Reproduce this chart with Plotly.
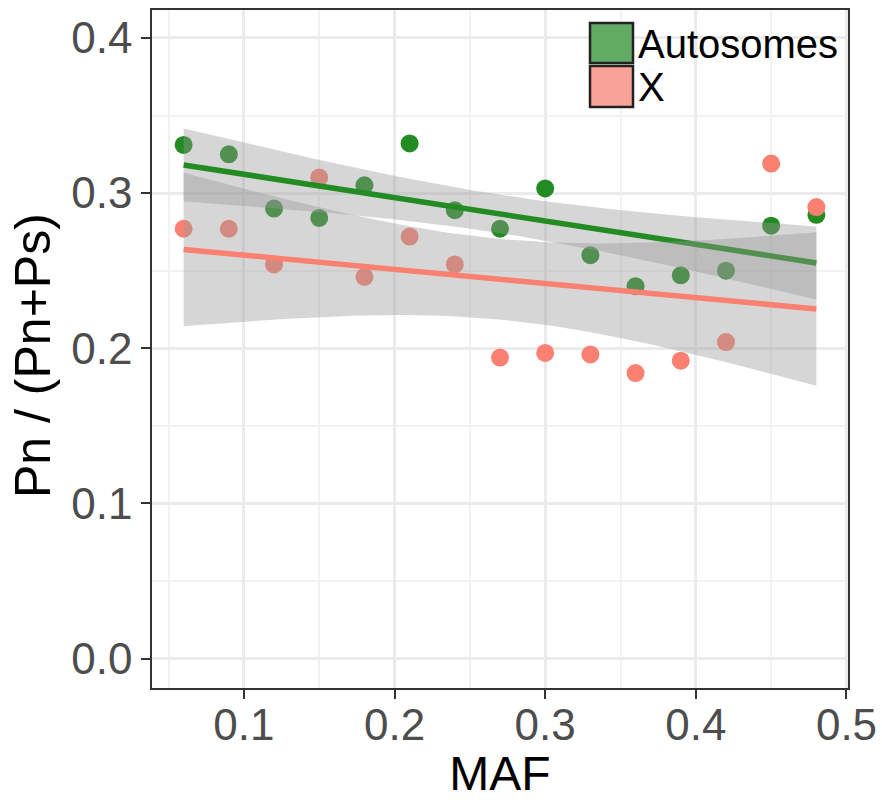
import numpy as np
import plotly.graph_objects as go

# ---- data ----
maf = [0.06, 0.09, 0.12, 0.15, 0.18, 0.21, 0.24, 0.27, 0.30, 0.33, 0.36, 0.39, 0.42, 0.45, 0.48]
autosomes = [0.331, 0.325, 0.290, 0.284, 0.305, 0.332, 0.289, 0.277, 0.303, 0.260, 0.240, 0.247, 0.250, 0.279, 0.286]
x_chrom = [0.277, 0.277, 0.254, 0.310, 0.246, 0.272, 0.254, 0.194, 0.197, 0.196, 0.184, 0.192, 0.204, 0.319, 0.291]
series_names = ["Autosomes", "X"]
x_ticks = [0.1, 0.2, 0.3, 0.4, 0.5]
y_ticks = [0.0, 0.1, 0.2, 0.3, 0.4]

GREEN = "#228B22"
SALMON = "#FA8072"
FONT = "Liberation Sans, Arial, Helvetica, sans-serif"
T975_DF13 = 2.160  # Student t quantile for 95% CI, n-2 = 13


def lm_fit(x, y, n_grid=80):
    x = np.asarray(x, float)
    y = np.asarray(y, float)
    n = len(x)
    b1, b0 = np.polyfit(x, y, 1)
    resid = y - (b0 + b1 * x)
    s = np.sqrt(np.sum(resid ** 2) / (n - 2))
    xbar = x.mean()
    sxx = np.sum((x - xbar) ** 2)
    xg = np.linspace(x.min(), x.max(), n_grid)
    yg = b0 + b1 * xg
    se = s * np.sqrt(1.0 / n + (xg - xbar) ** 2 / sxx)
    return xg, yg, yg - T975_DF13 * se, yg + T975_DF13 * se


fig = go.Figure()

# points (drawn first, bands on top as in ggplot)
for name, ys, col in [(series_names[0], autosomes, GREEN), (series_names[1], x_chrom, SALMON)]:
    fig.add_trace(go.Scatter(x=maf, y=ys, mode="markers", name=name, showlegend=False,
                             marker=dict(size=18, color=col, line=dict(width=0)),
                             hoverinfo="x+y"))

# smooth: ribbon then line per group
for name, ys, col in [(series_names[0], autosomes, GREEN), (series_names[1], x_chrom, SALMON)]:
    xg, yg, lo, hi = lm_fit(maf, ys)
    fig.add_trace(go.Scatter(x=np.concatenate([xg, xg[::-1]]), y=np.concatenate([hi, lo[::-1]]),
                             mode="lines", fill="toself", fillcolor="rgba(153,153,153,0.4)",
                             line=dict(width=0, color="rgba(0,0,0,0)"), showlegend=False,
                             hoverinfo="skip"))
    fig.add_trace(go.Scatter(x=xg, y=yg, mode="lines", line=dict(color=col, width=5.5),
                             showlegend=False, hoverinfo="skip"))

# panel geometry (pixels)
L, R, T, B = 152, 848, 10, 688
W, H = R - L, B - T


def px(xp):
    return (xp - L) / W


def py(yp):
    return 1 - (yp - T) / H


# manual legend keys
legend_items = [(series_names[0], "#62ab62", 23, 63), (series_names[1], "#f9a398", 66, 107)]
for name, fillc, y0, y1 in legend_items:
    fig.add_shape(type="rect", xref="paper", yref="paper", x0=px(590), x1=px(633),
                  y0=py(y1), y1=py(y0), fillcolor=fillc, line=dict(color="#222222", width=2.5))
    fig.add_annotation(xref="paper", yref="paper", x=px(636), y=py((y0 + y1) / 2 + 1),
                       text=name, showarrow=False, xanchor="left", yanchor="middle",
                       font=dict(family=FONT, size=40, color="black"))

# y-axis title placed as rotated annotation (centred like the reference)
fig.add_annotation(xref="paper", yref="paper", x=px(33), y=py(356), text="Pn / (Pn+Ps)",
                   textangle=-90, showarrow=False, xanchor="center", yanchor="middle",
                   font=dict(family=FONT, size=50, color="black"))

axis_common = dict(
    showline=True, linecolor="#333333", linewidth=1.5, mirror=True,
    ticks="outside", ticklen=9, tickwidth=2, tickcolor="#333333",
    showgrid=True, gridcolor="#ebebeb", gridwidth=2.5, zeroline=False,
    tickfont=dict(family=FONT, size=44, color="#4d4d4d"),
)

fig.update_xaxes(range=[0.039, 0.501], tickvals=x_ticks, ticktext=[f"{v:.1f}" for v in x_ticks],
                 minor=dict(dtick=0.05, tick0=0.05, showgrid=True, gridcolor="#f2f2f2", gridwidth=1.5, ticks=""),
                 ticklabelstandoff=-12,
                 title=dict(text="MAF", font=dict(family=FONT, size=48, color="black"), standoff=22),
                 **axis_common)
fig.update_yaxes(range=[-0.019, 0.418], tickvals=y_ticks, ticktext=[f"{v:.1f}" for v in y_ticks],
                 minor=dict(dtick=0.05, tick0=0.05, showgrid=True, gridcolor="#f2f2f2", gridwidth=1.5, ticks=""),
                 **axis_common)

fig.update_layout(
    width=882, height=800,
    margin=dict(l=L, r=882 - R, t=T, b=800 - B, autoexpand=False),
    plot_bgcolor="white", paper_bgcolor="white",
    showlegend=False,
)

fig.write_html("out.html", config={"displayModeBar": False},
               post_script="document.body.style.margin='0';document.body.style.overflow='hidden';")
